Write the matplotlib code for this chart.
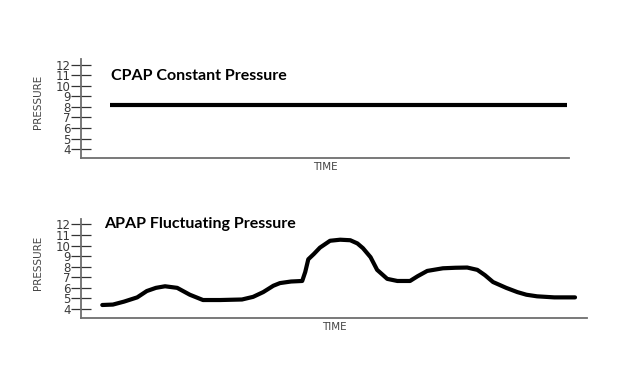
import matplotlib
matplotlib.use("Agg")
import matplotlib.pyplot as plt

# pressure axis ticks (cm H2O)
pressure_ticks = [4, 5, 6, 7, 8, 9, 10, 11, 12]

# CPAP: one constant pressure
cpap_time = [5.7, 96.2]
cpap_pressure = [8.15, 8.15]

# APAP: pressure
apap_time = [4.2, 6.3, 8.5, 11.1, 13.0, 14.8, 16.6, 19.0, 21.5, 24.1, 27.5,
             31.8, 34.0, 36.0, 38.0, 39.3, 41.5, 43.7, 44.3, 44.9, 46.0,
             47.2, 49.2, 51.2, 53.2, 54.6, 55.7, 57.2, 58.5, 60.5, 62.5,
             65.0, 66.5, 68.4, 71.5, 74.0, 76.3, 78.3, 79.8, 81.4, 84.0,
             86.2, 88.0, 90.1, 93.5, 97.6]
apap_pressure = [4.38, 4.42, 4.7, 5.1, 5.7, 6.0, 6.15, 6.0, 5.35, 4.85, 4.85,
                 4.9, 5.15, 5.6, 6.2, 6.45, 6.6, 6.65, 7.5, 8.7, 9.2,
                 9.8, 10.45, 10.55, 10.5, 10.2, 9.75, 8.9, 7.7, 6.85, 6.65,
                 6.65, 7.1, 7.6, 7.85, 7.9, 7.92, 7.7, 7.2, 6.55, 6.0,
                 5.6, 5.35, 5.2, 5.1, 5.1]

fig = plt.figure(figsize=(6.28, 3.82), dpi=100)
fig.patch.set_facecolor("white")

axis_color = "#6e6e6e"


def style_axes(ax, xmax, label_x, label_y):
    ax.set_xlim(0, xmax)
    ax.set_ylim(3.15, 12.5)
    ax.set_yticks(pressure_ticks)
    ax.set_yticklabels([str(t) for t in pressure_ticks])
    ax.set_xticks([])
    for side in ("top", "right"):
        ax.spines[side].set_visible(False)
    for side in ("left", "bottom"):
        ax.spines[side].set_color(axis_color)
        ax.spines[side].set_linewidth(1.3)
    ax.tick_params(axis="y", direction="inout", length=15, width=0.9,
                   color="#333333", pad=0, labelsize=8.5, labelcolor="#3a3a3a")
    ax.set_ylabel("PRESSURE", fontsize=7.5, color="#444444")
    ax.yaxis.set_label_coords(label_x, label_y)
    ax.set_xlabel("TIME", fontsize=7.5, color="#444444", labelpad=3)
    ax.patch.set_alpha(0)


ax1 = fig.add_axes([0.129, 0.586, 0.777, 0.259])
style_axes(ax1, 96.6, -0.078, 0.57)
ax1.plot(cpap_time, cpap_pressure, color="black", lw=3, solid_capstyle="butt")
ax1.text(6.0, 10.9, "CPAP Constant Pressure", fontsize=11.5, fontweight="bold",
         family="Lato", va="center", ha="left")

ax2 = fig.add_axes([0.129, 0.1675, 0.806, 0.259])
style_axes(ax2, 100, -0.075, 0.56)
ax2.plot(apap_time, apap_pressure, color="black", lw=3,
         solid_joinstyle="round", solid_capstyle="round")
ax2.text(4.6, 12.05, "APAP Fluctuating Pressure", fontsize=11.5, fontweight="bold",
         family="Lato", va="center", ha="left")

fig.savefig("out.png", dpi=100)
